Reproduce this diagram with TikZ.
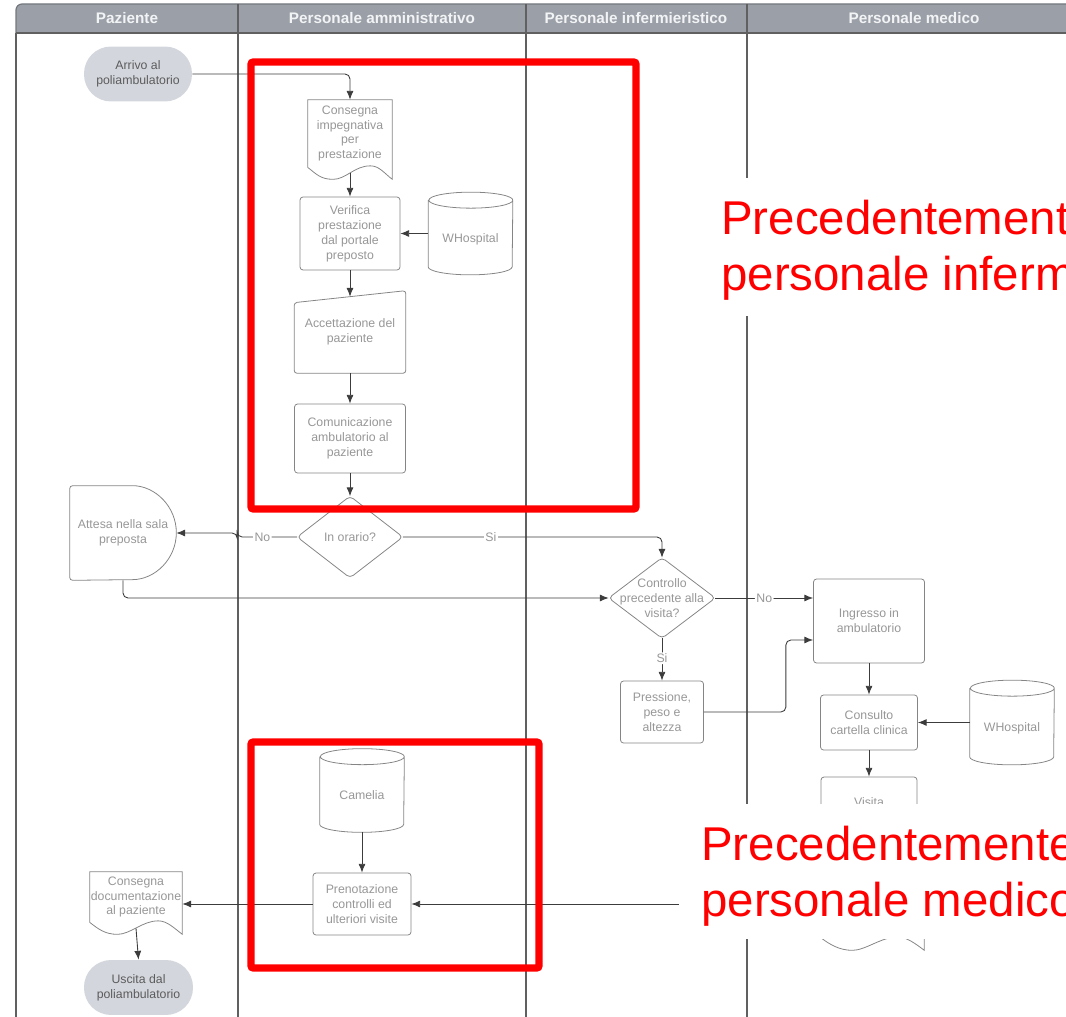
\documentclass[tikz,border=0pt]{standalone}
\usepackage{fontspec}
\setmainfont{Liberation Sans}
\usetikzlibrary{positioning, calc, arrows.meta}

\definecolor{hdrgray}{HTML}{9BA0A8}
\definecolor{hdrtext}{HTML}{F2F3F5}
\definecolor{laneline}{HTML}{606060}
\definecolor{nodeline}{HTML}{858585}
\definecolor{nodetext}{HTML}{979797}
\definecolor{pillfill}{HTML}{D3D6DC}
\definecolor{pilltext}{HTML}{5C5C5C}
\definecolor{arrowgray}{HTML}{3C3C3C}
\definecolor{markred}{HTML}{FF0000}

\tikzset{
  lane/.style={draw=laneline, line width=0.7pt},
  hdr/.style={text=hdrtext, font=\bfseries\fontsize{8.7}{10}\selectfont},
  nodebase/.style={inner sep=0pt, align=center, text=nodetext, font=\fontsize{7}{8.5}\selectfont},
  procbox/.style={nodebase, draw=nodeline, line width=0.45pt, rounded corners=0.06cm},
  pill/.style={nodebase, fill=pillfill, text=pilltext, rounded corners=0.54cm},
  dbstore/.style={nodebase, minimum width=1.68cm, text height=11.9pt, text depth=1.5pt},
  shapeline/.style={draw=nodeline, line width=0.45pt},
  flow/.style={draw=arrowgray, line width=0.5pt, rounded corners=0.1cm, -{Latex[length=5pt,width=4pt]}},
  lbl/.style={fill=white, inner sep=0.8pt, text=nodetext, font=\fontsize{7}{8.5}\selectfont},
  redbox/.style={draw=markred, line width=4pt, rounded corners=0.04cm},
  rednote/.style={text=markred, inner sep=0pt, align=left, font=\fontsize{27}{32}\selectfont},
}

% outlines drawn round bare nodes
\newcommand{\docout}[1]{%
  \draw[shapeline] (#1.south west) -- (#1.north west) -- (#1.north east)
    -- ($(#1.south east)+(0,-12)$)
    .. controls +(-8,6) and +(9,0) .. ($(#1.south west)!0.74!(#1.south east)+(0,1.5)$)
    .. controls +(-16,0) and +(13,0) .. ($(#1.south west)!0.3!(#1.south east)+(0,-12)$)
    .. controls +(-13,0) and +(8,-6) .. (#1.south west);}
\newcommand{\cylout}[1]{%
  \draw[shapeline] ($(#1.north west)+(0,-8)$) -- ($(#1.south west)+(0,8)$)
    arc[start angle=180, end angle=360, x radius=42, y radius=8]
    -- ($(#1.north east)+(0,-8)$)
    arc[start angle=0, end angle=360, x radius=42, y radius=8];}
\newcommand{\decout}[1]{%
  \draw[shapeline, rounded corners=0.08cm] (#1.north) -- (#1.east) -- (#1.south) -- (#1.west) -- cycle;}

\begin{document}
\begin{tikzpicture}[x=0.02cm, y=0.02cm]
    \useasboundingbox (0,0) rectangle (1066,-1017);
    \clip (0,0) rectangle (1066,-1017);

    % swimlanes
    \fill[hdrgray] (16,-33) [rounded corners=0.12cm] -- (16,-4) [sharp corners] -- (1080,-4) -- (1080,-33) -- cycle;
    \draw[lane, draw=hdrgray!75!black] (16,-33) [rounded corners=0.12cm] -- (16,-4) [sharp corners] -- (1080,-4);
    \draw[lane] (16,-33) -- (16,-1030);
    \draw[lane] (16,-33) -- (1080,-33);
    \foreach \lx in {238,526,747}
        \draw[lane] (\lx,-4) -- (\lx,-1030);

    \node[hdr] (hpaz) at (127,-18.5) {Paziente};
    \node[hdr] (hamm) at (382,-18.5) {Personale amministrativo};
    \node[hdr] (hinf) at (636,-18.5) {Personale infermieristico};
    \node[hdr] (hmed) at (914,-18.5) {Personale medico};

    % paziente / amministrativo
    \node[pill, minimum width=2.16cm, minimum height=1.1cm] (arrivo) at (138,-74) {Arrivo al\\poliambulatorio};
    \node[nodebase, minimum width=1.68cm, minimum height=1.34cm] (consegna) at (350,-133.5) {Consegna\\impegnativa\\per\\prestazione};
    \docout{consegna}
    \node[procbox, minimum width=2cm, minimum height=1.46cm] (verifica) at (350,-233.5) {Verifica\\prestazione\\dal portale\\preposto};
    \node[dbstore, minimum height=1.64cm] (whosp) at (470.5,-233.5) {WHospital};
    \cylout{whosp}
    \node[nodebase, minimum width=2.22cm, minimum height=1.64cm] (accett) at (350,-332) {Accettazione del\\paziente};
    \draw[shapeline, rounded corners=0.06cm] ($(accett.north west)+(0,-12)$) -- (accett.north east) -- (accett.south east) -- (accett.south west) -- cycle;
    \node[procbox, minimum width=2.22cm, minimum height=1.38cm] (comunic) at (350,-438.5) {Comunicazione\\ambulatorio al\\paziente};
    \node[nodebase, minimum width=2.1cm, minimum height=1.62cm] (inorario) at (350,-537) {In orario?};
    \decout{inorario}
    \node[nodebase, minimum width=2.12cm, minimum height=1.88cm] (attesa) at (123,-533) {Attesa nella sala\\preposta};
    \draw[shapeline, rounded corners=0.06cm] (attesa.south west) -- (attesa.north west) -- ($(attesa.north east)+(-47,0)$) arc[start angle=90, end angle=-90, radius=47] -- cycle;

    % infermieristico / medico
    \node[nodebase, minimum width=2.12cm, minimum height=1.6cm] (controllo) at (662,-598) {Controllo\\precedente alla\\visita?};
    \decout{controllo}
    \node[procbox, minimum width=1.66cm, minimum height=1.24cm] (pressione) at (662,-712) {Pressione,\\peso e\\altezza};
    \node[procbox, minimum width=2.22cm, minimum height=1.68cm] (ingresso) at (869,-621) {Ingresso in\\ambulatorio};
    \node[procbox, minimum width=1.94cm, minimum height=1.1cm] (consulto) at (869,-722.5) {Consulto\\cartella clinica};
    \node[dbstore, minimum height=1.68cm] (whosp2) at (1012,-722.5) {WHospital};
    \cylout{whosp2}
    \node[procbox, minimum width=1.92cm, minimum height=1cm] (visita) at (869,-802) {Visita};
    \node[nodebase, minimum width=2.04cm, minimum height=1.76cm] (esito) at (873,-894) {};
    \docout{esito}

    % uscita
    \node[dbstore, minimum height=1.66cm] (camelia) at (362,-790.5) {Camelia};
    \cylout{camelia}
    \node[procbox, minimum width=1.96cm, minimum height=1.24cm] (prenot) at (362,-904) {Prenotazione\\controlli ed\\ulteriori visite};
    \node[nodebase, minimum width=1.84cm, minimum height=1cm] (consdoc) at (136,-897) {Consegna\\documentazione\\al paziente};
    \docout{consdoc}
    \node[pill, minimum width=2.18cm, minimum height=1.1cm] (uscita) at (138.5,-987.5) {Uscita dal\\poliambulatorio};

    % connectors
    \draw[flow] (arrivo.east) -| (consegna.north);
    \draw[flow] ($(consegna.south)+(0,-6)$) -- (verifica.north);
    \draw[flow] (whosp.west) -- (verifica.east);
    \draw[flow] (verifica.south) -- ($(accett.north)+(0,-6)$);
    \draw[flow] (accett.south) -- (comunic.north);
    \draw[flow] (comunic.south) -- (inorario.north);
    \draw[flow] (inorario.west) -- node[lbl, pos=0.58] (lno1) {No} ++(-60,0) |- (attesa.east);
    \draw[flow] (inorario.east) -| node[lbl, pos=0.17] (lsi1) {Si} (controllo.north);
    \draw[flow] (attesa.south) |- (controllo.west);
    \draw[flow] (controllo.east) -- node[lbl] (lno2) {No} (controllo.east -| ingresso.west);
    \draw[flow] (controllo.south) -- node[lbl, pos=0.47] (lsi2) {Si} (pressione.north);
    \draw[flow] (pressione.east) -- ++(82,0) |- ($(ingresso.west)+(0,-19)$);
    \draw[flow] (ingresso.south) -- (consulto.north);
    \draw[flow] (whosp2.west) -- (consulto.east);
    \draw[flow] (consulto.south) -- (visita.north);
    \draw[flow] (esito.west |- prenot.east) -- (prenot.east);
    \draw[flow] (camelia.south) -- (prenot.north);
    \draw[flow] (prenot.west) -- (prenot.west -| consdoc.east);
    \draw[flow] ($(consdoc.south)+(0,-6)$) -- (uscita.north);

    % red marks
    \draw[redbox] (251,-62) rectangle (636,-509);
    \draw[redbox] (251,-742) rectangle (539,-968);

    \fill[white] (712,-178) rectangle (1080,-316);
    \node[rednote, anchor=north west] (notainf) at (721,-200) {Precedentemente\\personale infermieristico};
    \fill[white] (679,-804) rectangle (1080,-939);
    \node[rednote, anchor=north west] (notamed) at (701,-826) {Precedentemente\\personale medico};
\end{tikzpicture}
\end{document}
